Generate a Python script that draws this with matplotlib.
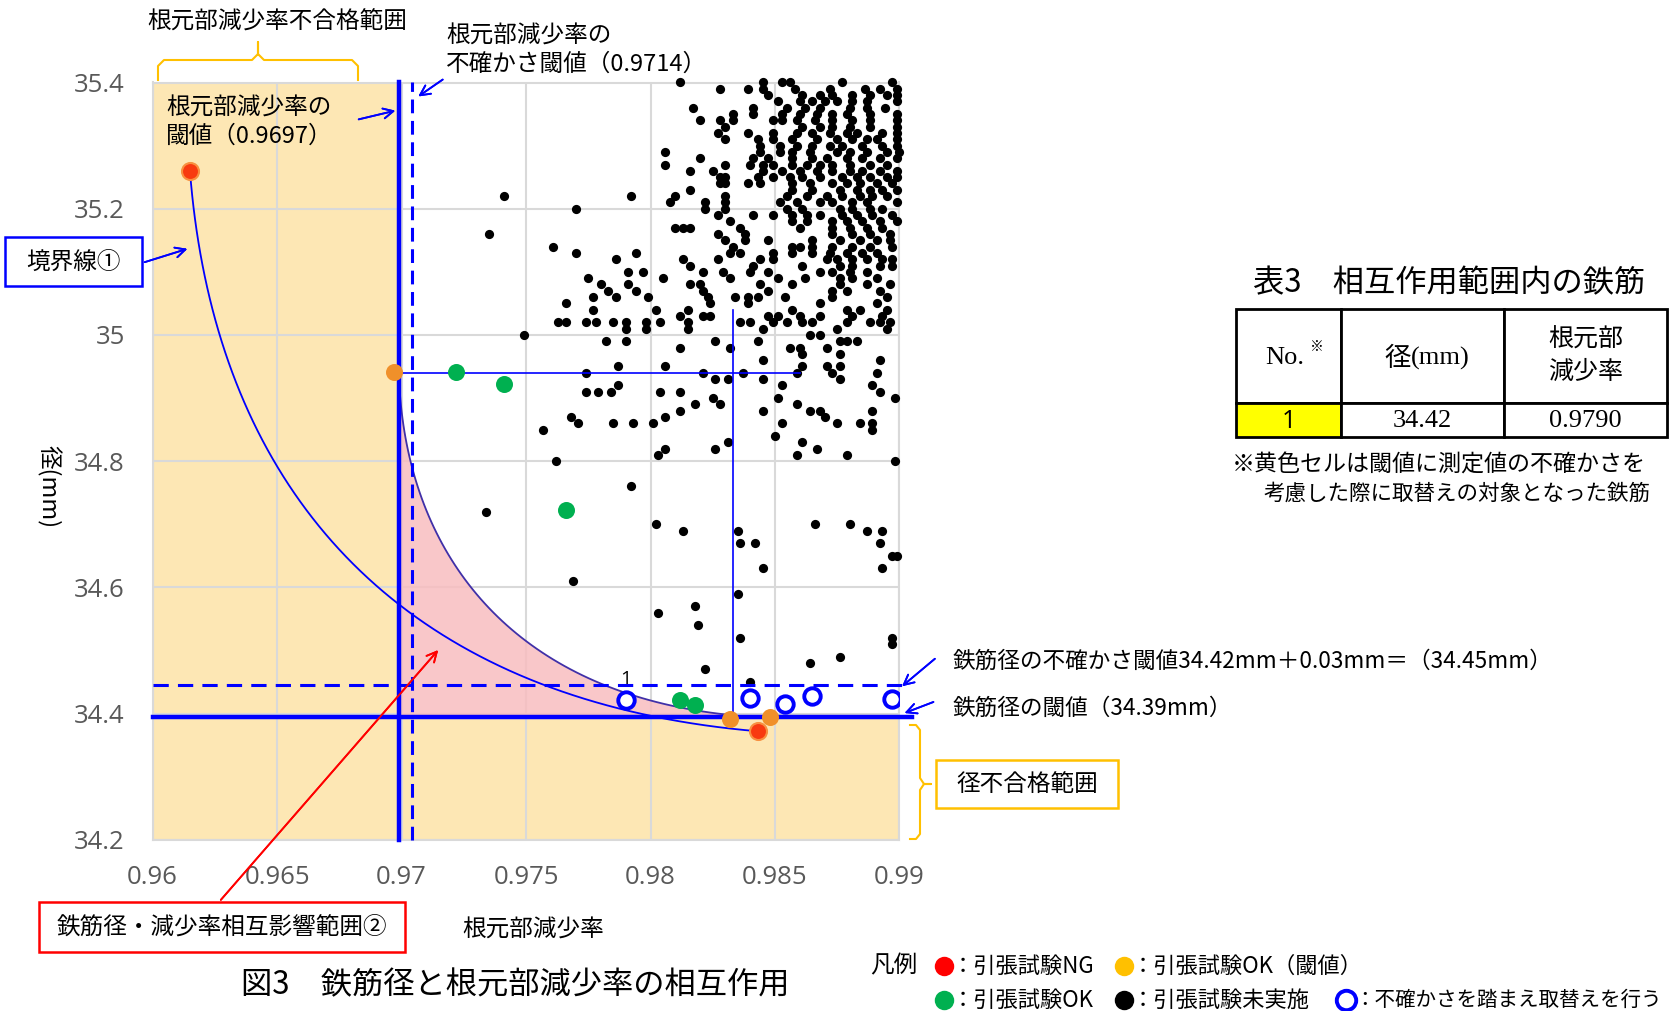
import numpy as np
import matplotlib
matplotlib.use('Agg')
import matplotlib.pyplot as plt
from matplotlib.patches import Rectangle
from matplotlib.lines import Line2D

plt.rcParams['font.family'] = ['Noto Sans CJK JP', 'DejaVu Sans']

W, H = 1673, 1011

# 閾値（図上の位置）
x_thr = 0.9699
x_thr_unc = 0.9704
y_thr = 34.395
y_thr_unc = 34.446

# 引張試験NG
red_x = [0.9615, 0.9843]
red_y = [35.26, 34.372]
# 引張試験OK（閾値）
orange_x = [0.9697, 0.9832, 0.9848]
orange_y = [34.942, 34.392, 34.395]
# 引張試験OK
green_x = [0.9722, 0.9741, 0.9766, 0.9812, 0.9818]
green_y = [34.942, 34.922, 34.722, 34.421, 34.413]
# 不確かさを踏まえ取替え
blue_x = [0.9790, 0.9840, 0.9854, 0.9865, 0.9897]
blue_y = [34.421, 34.425, 34.415, 34.428, 34.423]

# 引張試験未実施（行ごと：径, 減少率リスト）
black_rows = [
    (35.40, [0.9812, 0.9845, 0.9853, 0.9856, 0.9877, 0.9897]),
    (35.39, [0.9828, 0.9839, 0.9845, 0.9858, 0.9872, 0.9886, 0.9892, 0.9899]),
    (35.38, [0.9847, 0.9861, 0.9868, 0.9873, 0.9881, 0.9888, 0.9895, 0.9899]),
    (35.37, [0.9851, 0.9860, 0.9865, 0.9870, 0.9875, 0.9881, 0.9887, 0.9899]),
    (35.36, [0.9817, 0.9841, 0.9855, 0.9862, 0.9868, 0.9880, 0.9887, 0.9894]),
    (35.35, [0.9833, 0.9841, 0.9853, 0.9860, 0.9867, 0.9873, 0.9879, 0.9888, 0.9899]),
    (35.34, [0.9820, 0.9828, 0.9833, 0.9849, 0.9853, 0.9859, 0.9866, 0.9873, 0.9881, 0.9888, 0.9899]),
    (35.33, [0.9830, 0.9861, 0.9868, 0.9873, 0.9880, 0.9888, 0.9899]),
    (35.32, [0.9827, 0.9839, 0.9849, 0.9859, 0.9865, 0.9872, 0.9879, 0.9883, 0.9893, 0.9899]),
    (35.31, [0.9830, 0.9843, 0.9849, 0.9857, 0.9867, 0.9875, 0.9881, 0.9887, 0.9891, 0.9899]),
    (35.30, [0.9844, 0.9852, 0.9859, 0.9865, 0.9872, 0.9877, 0.9885, 0.9893, 0.9899]),
    (35.29, [0.9806, 0.9844, 0.9852, 0.9857, 0.9864, 0.9875, 0.9880, 0.9887, 0.9895, 0.9900]),
    (35.28, [0.9820, 0.9841, 0.9847, 0.9857, 0.9865, 0.9871, 0.9879, 0.9885, 0.9892, 0.9899]),
    (35.27, [0.9806, 0.9830, 0.9840, 0.9845, 0.9849, 0.9857, 0.9863, 0.9868, 0.9873, 0.9880, 0.9888, 0.9895]),
    (35.26, [0.9816, 0.9825, 0.9845, 0.9853, 0.9860, 0.9867, 0.9873, 0.9880, 0.9885, 0.9892, 0.9899]),
    (35.25, [0.9828, 0.9830, 0.9843, 0.9849, 0.9856, 0.9861, 0.9868, 0.9877, 0.9883, 0.9888, 0.9895, 0.9899]),
    (35.24, [0.9828, 0.9830, 0.9839, 0.9844, 0.9857, 0.9864, 0.9873, 0.9879, 0.9884, 0.9891, 0.9897]),
    (35.23, [0.9816, 0.9857, 0.9865, 0.9876, 0.9883, 0.9888, 0.9893, 0.9899]),
    (35.22, [0.9741, 0.9792, 0.9810, 0.9830, 0.9855, 0.9863, 0.9871, 0.9877, 0.9884, 0.9889, 0.9895]),
    (35.21, [0.9808, 0.9822, 0.9830, 0.9852, 0.9859, 0.9868, 0.9873, 0.9881, 0.9887, 0.9899]),
    (35.20, [0.9770, 0.9822, 0.9830, 0.9855, 0.9861, 0.9876, 0.9881, 0.9888, 0.9893]),
    (35.19, [0.9827, 0.9841, 0.9849, 0.9857, 0.9863, 0.9868, 0.9877, 0.9883, 0.9889, 0.9897]),
    (35.18, [0.9832, 0.9857, 0.9863, 0.9873, 0.9879, 0.9885, 0.9892, 0.9899]),
    (35.17, [0.9810, 0.9813, 0.9816, 0.9836, 0.9860, 0.9873, 0.9880, 0.9887, 0.9893]),
    (35.16, [0.9735, 0.9827, 0.9838, 0.9873, 0.9881, 0.9888, 0.9896]),
    (35.15, [0.9830, 0.9838, 0.9847, 0.9865, 0.9876, 0.9884, 0.9891, 0.9896]),
    (35.14, [0.9761, 0.9833, 0.9857, 0.9860, 0.9865, 0.9873, 0.9881, 0.9888, 0.9897]),
    (35.13, [0.9770, 0.9794, 0.9832, 0.9836, 0.9849, 0.9857, 0.9865, 0.9872, 0.9879, 0.9885, 0.9891]),
    (35.12, [0.9786, 0.9813, 0.9827, 0.9844, 0.9849, 0.9871, 0.9875, 0.9881, 0.9887, 0.9893, 0.9897]),
    (35.11, [0.9816, 0.9841, 0.9861, 0.9876, 0.9881, 0.9892, 0.9897]),
    (35.10, [0.9791, 0.9797, 0.9821, 0.9829, 0.9840, 0.9847, 0.9868, 0.9873, 0.9880, 0.9887]),
    (35.09, [0.9775, 0.9805, 0.9832, 0.9851, 0.9862, 0.9876, 0.9881, 0.9891]),
    (35.08, [0.9780, 0.9791, 0.9816, 0.9820, 0.9844, 0.9857, 0.9876, 0.9887, 0.9896]),
    (35.07, [0.9783, 0.9794, 0.9821, 0.9847, 0.9873, 0.9879, 0.9892]),
    (35.06, [0.9777, 0.9786, 0.9799, 0.9823, 0.9834, 0.9839, 0.9843, 0.9854, 0.9873, 0.9895]),
    (35.05, [0.9766, 0.9824, 0.9839, 0.9868, 0.9891]),
    (35.04, [0.9777, 0.9802, 0.9815, 0.9857, 0.9879, 0.9884, 0.9895]),
    (35.03, [0.9812, 0.9821, 0.9824, 0.9847, 0.9851, 0.9860, 0.9868, 0.9881, 0.9893]),
    (35.02, [0.9763, 0.9766, 0.9774, 0.9778, 0.9785, 0.9790, 0.9798, 0.9804, 0.9815, 0.9836,
             0.9840, 0.9849, 0.9855, 0.9861, 0.9865, 0.9879, 0.9888, 0.9892, 0.9896]),
    (35.01, [0.9790, 0.9798, 0.9815, 0.9845, 0.9875, 0.9895]),
    (35.00, [0.9749, 0.9864, 0.9868]),
    (34.99, [0.9782, 0.9790, 0.9826, 0.9843, 0.9876, 0.9879, 0.9883]),
    (34.98, [0.9812, 0.9832, 0.9856, 0.9860, 0.9871]),
    (34.97, [0.9861, 0.9876]),
    (34.96, [0.9845, 0.9892]),
    (34.95, [0.9787, 0.9806, 0.9861, 0.9871, 0.9876]),
    (34.94, [0.9774, 0.9821, 0.9837, 0.9859, 0.9873, 0.9891]),
    (34.93, [0.9826, 0.9831, 0.9845, 0.9876]),
    (34.92, [0.9787, 0.9853, 0.9889]),
    (34.91, [0.9774, 0.9779, 0.9784, 0.9804, 0.9812, 0.9892]),
    (34.90, [0.9825, 0.9851, 0.9898]),
    (34.89, [0.9818, 0.9828, 0.9859]),
    (34.88, [0.9812, 0.9845, 0.9864, 0.9868, 0.9889]),
    (34.87, [0.9768, 0.9806, 0.9870]),
    (34.86, [0.9771, 0.9785, 0.9793, 0.9801, 0.9853, 0.9875, 0.9884, 0.9889]),
    (34.85, [0.9757, 0.9889]),
    (34.84, [0.9850]),
    (34.83, [0.9831, 0.9861]),
    (34.82, [0.9806, 0.9826, 0.9867]),
    (34.81, [0.9803, 0.9859, 0.9879]),
    (34.80, [0.9762, 0.9898]),
    (34.76, [0.9792]),
    (34.72, [0.9734]),
    (34.70, [0.9802, 0.9866, 0.9880]),
    (34.69, [0.9813, 0.9835, 0.9887, 0.9893]),
    (34.67, [0.9836, 0.9842, 0.9892]),
    (34.65, [0.9897, 0.9899]),
    (34.63, [0.9845, 0.9893]),
    (34.61, [0.9769]),
    (34.59, [0.9835]),
    (34.57, [0.9818]),
    (34.56, [0.9803]),
    (34.54, [0.9819]),
    (34.52, [0.9836, 0.9897]),
    (34.51, [0.9897]),
    (34.49, [0.9876]),
    (34.48, [0.9864]),
    (34.47, [0.9822]),
    (34.45, [0.9840]),
]

# 境界線①（ベジェ制御点）
bnd_ctrl_x = [0.9615, 0.9625, 0.9700, 0.9843]
bnd_ctrl_y = [35.26, 34.75, 34.42, 34.372]
# 相互影響範囲②の境界（ベジェ制御点）
pink_ctrl_x = [0.9699, 0.9702, 0.9745, 0.9834]
pink_ctrl_y = [34.93, 34.65, 34.43, 34.397]

# 十字線
cross_h_y, cross_h_x = 34.94, (x_thr, 0.9860)
cross_v_x, cross_v_y = 0.9833, (y_thr, 35.04)

table_cols = ['No.', '径(mm)', '根元部\n減少率']
table_row = ['1', '34.42', '0.9790']


def bezier(cx, cy, n=80):
    t = np.linspace(0, 1, n)
    c = [(1 - t) ** 3, 3 * (1 - t) ** 2 * t, 3 * (1 - t) * t ** 2, t ** 3]
    return sum(ci * v for ci, v in zip(c, cx)), sum(ci * v for ci, v in zip(c, cy))


def P(px, py):
    return (px / W, 1 - py / H)


fig = plt.figure(figsize=(W / 100, H / 100), dpi=100)
ax = fig.add_axes([152.6 / W, 1 - 839.8 / H, (899.5 - 152.6) / W, (839.8 - 82.5) / H])
ax.set_xlim(0.96, 0.99)
ax.set_ylim(34.2, 35.4)
ax.set_xticks([0.96, 0.965, 0.97, 0.975, 0.98, 0.985, 0.99])
ax.set_xticklabels(['0.96', '0.965', '0.97', '0.975', '0.98', '0.985', '0.99'])
ax.set_yticks([34.2, 34.4, 34.6, 34.8, 35.0, 35.2, 35.4])
ax.set_yticklabels(['34.2', '34.4', '34.6', '34.8', '35', '35.2', '35.4'])
ax.tick_params(length=0, labelsize=18.5, colors='#595959')
ax.tick_params(axis='x', pad=18)
ax.tick_params(axis='y', pad=20)
for lab in ax.get_xticklabels() + ax.get_yticklabels():
    lab.set_fontfamily('Open Sans')
ax.grid(color='#D9D9D9', lw=1.5)
ax.set_axisbelow(True)
for s in ax.spines.values():
    s.set_color('#D9D9D9')
    s.set_linewidth(1.5)

# 不合格範囲（オレンジ）
ax.add_patch(Rectangle((0.96, 34.2), x_thr - 0.96, 1.2, facecolor='#FDE3A7', alpha=0.85,
                       edgecolor='none', zorder=0.5))
ax.add_patch(Rectangle((x_thr, 34.2), 0.99 - x_thr, y_thr - 34.2, facecolor='#FDE3A7', alpha=0.85,
                       edgecolor='none', zorder=0.5))

# 相互影響範囲（ピンク）
px_, py_ = bezier(pink_ctrl_x, pink_ctrl_y)
ax.fill_between(px_, y_thr, py_, color='#F8BDC0', alpha=0.85, lw=0, zorder=1)
ax.plot(px_, py_, color='#4030A8', lw=1.3, zorder=2)

# 黒点
bx = [x for y, xs in black_rows for x in xs]
by = [y for y, xs in black_rows for x in xs]
ax.scatter(bx, by, s=44, color='black', lw=0, zorder=3, clip_on=False)

# 閾値線
ax.plot([x_thr, x_thr], [34.2, 35.4], color='#0000FF', lw=3.2, zorder=4, clip_on=False)
ax.plot([x_thr_unc, x_thr_unc], [34.2, 35.4], color='#0000FF', lw=2.2, ls=(0, (4.5, 2.5)),
        zorder=4, clip_on=False)
ax.plot([0.96, 0.9905], [y_thr, y_thr], color='#0000FF', lw=3.2, zorder=4, clip_on=False)
ax.plot([0.96, 0.9902], [y_thr_unc, y_thr_unc], color='#0000FF', lw=2.2, ls=(0, (5, 3)),
        zorder=4, clip_on=False)
ax.plot(cross_h_x, [cross_h_y, cross_h_y], color='#0000FF', lw=1.2, zorder=4)
ax.plot([cross_v_x, cross_v_x], cross_v_y, color='#0000FF', lw=1.2, zorder=4)

# 境界線①
ax.plot(*bezier(bnd_ctrl_x, bnd_ctrl_y), color='#0000FF', lw=1.3, zorder=4)

# 色付き点
ax.scatter(orange_x, orange_y, s=150, color='#F0902A', lw=0, zorder=5, clip_on=False)
ax.scatter(red_x, red_y, s=150, color='#F83A10', edgecolor='#F89040', lw=1.5, zorder=5)
ax.scatter(green_x, green_y, s=150, color='#00B050', lw=0, zorder=5)
ax.scatter(blue_x, blue_y, s=140, facecolor='white', edgecolor='#0000FF', lw=2.8, zorder=6)
ax.text(blue_x[0], 34.44, table_row[0], ha='center', va='bottom', fontsize=14,
        fontfamily='Open Sans', zorder=6)

ax.set_xlabel('根元部減少率', fontsize=17)
ax.xaxis.set_label_coords(0.51, -0.104)
ax.set_ylabel('径(mm)', fontsize=17, rotation=270, va='center')
ax.yaxis.set_label_coords(-0.14, 0.467)

tkw = dict(fontsize=17)


def box(x0, y0, x1, y1, ec):
    fig.add_artist(Rectangle(P(x0, y1), (x1 - x0) / W, (y1 - y0) / H, transform=fig.transFigure,
                             fc='white', ec=ec, lw=1.8))


def arrow(x0, y0, x1, y1, color='#0000FF'):
    fig.add_artist(plt.annotate('', xy=P(x1, y1), xytext=P(x0, y0), xycoords='figure fraction',
                                arrowprops=dict(arrowstyle='->', color=color, lw=1.3,
                                                mutation_scale=18)))


# 上部ブラケット
bx0, bx1, byl, byh, bpk = 158, 358, 80, 60, 42
bm = (bx0 + bx1) / 2
brk = [(bx0, byl), (bx0, byh + 6), (bx0 + 6, byh), (bm - 6, byh), (bm, byh - 6), (bm, bpk),
       (bm, byh - 6), (bm + 6, byh), (bx1 - 6, byh), (bx1, byh + 6), (bx1, byl)]
fig.add_artist(Line2D([P(*p)[0] for p in brk], [P(*p)[1] for p in brk], color='#FFC000', lw=1.5))
fig.text(*P(277, 22), '根元部減少率不合格範囲', ha='center', va='center', **tkw)

fig.text(*P(446, 50), '根元部減少率の\n不確かさ閾値（0.9714）', ha='left', va='center',
         linespacing=1.3, **tkw)
arrow(445, 78, 416, 98)
fig.text(*P(166, 122), '根元部減少率の\n閾値（0.9697）', ha='left', va='center',
         linespacing=1.3, **tkw)
arrow(356, 120, 398, 110)

# 境界線①ラベル
box(5, 237, 142, 286, '#0000FF')
fig.text(*P(73, 262), '境界線①', ha='center', va='center', **tkw)
arrow(142, 263, 190, 248)

# 相互影響範囲②ラベル
box(39, 902, 405, 952, '#FF0000')
fig.text(*P(222, 927), '鉄筋径・減少率相互影響範囲②', ha='center', va='center', **tkw)
arrow(219, 902, 440, 648, color='#FF0000')

# 右側の注記
fig.text(*P(953, 661), '鉄筋径の不確かさ閾値34.42mm＋0.03mm＝（34.45mm）', ha='left', va='center',
         fontsize=16.3)
arrow(937, 657, 900, 688)
fig.text(*P(953, 708), '鉄筋径の閾値（34.39mm）', ha='left', va='center', fontsize=16.3)
arrow(936, 701, 902, 714)

rb = [(910, 725), (916, 725), (920, 730), (920, 778), (924, 784), (931, 784),
      (924, 784), (920, 790), (920, 834), (916, 839), (910, 839)]
fig.add_artist(Line2D([P(*p)[0] for p in rb], [P(*p)[1] for p in rb], color='#FFC000', lw=1.5))
box(936, 760, 1118, 808, '#FFC000')
fig.text(*P(1027, 784), '径不合格範囲', ha='center', va='center', **tkw)

# 表3
fig.text(*P(1449, 283), '表3　相互作用範囲内の鉄筋', ha='center', va='center', fontsize=22.5)
col_x = [1236, 1341, 1504, 1667]
row_y = [309, 403, 437]
for i in range(3):
    x0, x1 = col_x[i], col_x[i + 1]
    fig.add_artist(Rectangle(P(x0, row_y[1]), (x1 - x0) / W, (row_y[1] - row_y[0]) / H,
                             transform=fig.transFigure, fc='white', ec='black', lw=2))
    fc = '#FFFF00' if i == 0 else 'white'
    fig.add_artist(Rectangle(P(x0, row_y[2]), (x1 - x0) / W, (row_y[2] - row_y[1]) / H,
                             transform=fig.transFigure, fc=fc, ec='black', lw=2))
xc = [(col_x[i] + col_x[i + 1]) / 2 for i in range(3)]
fig.text(*P(xc[0] - 4, 358), table_cols[0], ha='center', va='center', fontsize=19,
         fontfamily='Liberation Serif')
fig.text(*P(xc[0] + 28, 347), '※', ha='center', va='center', fontsize=10)
fig.text(*P(xc[1] - 12, 358), '径', ha='right', va='center', fontsize=19)
fig.text(*P(xc[1] - 12, 358), '(mm)', ha='left', va='center', fontsize=19,
         fontfamily='Liberation Serif')
fig.text(*P(xc[2], 356), table_cols[2], ha='center', va='center', fontsize=18, linespacing=1.3)
fig.text(*P(xc[0], 421), table_row[0], ha='center', va='center', fontsize=18, fontfamily='Open Sans')
fig.text(*P(xc[1], 421), table_row[1], ha='center', va='center', fontsize=19,
         fontfamily='Liberation Serif')
fig.text(*P(xc[2], 421), table_row[2], ha='center', va='center', fontsize=19,
         fontfamily='Liberation Serif')
fig.text(*P(1232, 465), '※黄色セルは閾値に測定値の不確かさを', ha='left', va='center', fontsize=16.6)
fig.text(*P(1264, 494), '考慮した際に取替えの対象となった鉄筋', ha='left', va='center', fontsize=15.5)

# 図タイトル
fig.text(*P(515, 985), '図3　鉄筋径と根元部減少率の相互作用', ha='center', va='center', fontsize=22.5)

# 凡例
fig.text(*P(870, 966), '凡例', ha='left', va='center', **tkw)
leg = [(944, 966, '#FF0000', '#FF0000', '：引張試験NG', 16),
       (1124, 966, '#FFC000', '#FFC000', '：引張試験OK（閾値）', 16),
       (944, 1000, '#00B050', '#00B050', '：引張試験OK', 16),
       (1124, 1000, 'black', 'black', '：引張試験未実施', 16),
       (1346, 1000, 'white', '#0000FF', '：不確かさを踏まえ取替えを行う', 14.8)]
for px, py, fc, ec, lab, fs in leg:
    fig.add_artist(Line2D([px / W], [1 - py / H], marker='o', ms=14, mfc=fc, mec=ec,
                          mew=2.8 if fc == 'white' else 0, ls='none'))
    fig.text(*P(px + 8, py), lab, ha='left', va='center', fontsize=fs)

fig.savefig('out.png', dpi=100)
